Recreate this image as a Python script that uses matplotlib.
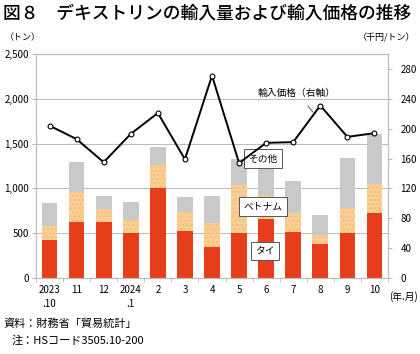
import numpy as np
import matplotlib
matplotlib.use("Agg")
import matplotlib.pyplot as plt

plt.rcParams['font.family'] = ['Noto Sans CJK JP', 'DejaVu Sans']

# --- datos ---
meses = ["2023\n.10", "11", "12", "2024\n.1", "2", "3", "4", "5", "6", "7", "8", "9", "10"]
tai = [420, 620, 620, 498, 1000, 524, 349, 498, 661, 513, 383, 501, 724]
vietnam = [163, 335, 145, 152, 259, 208, 264, 538, 260, 215, 92, 279, 327]
otros = [249, 345, 152, 200, 201, 167, 304, 294, 446, 357, 223, 564, 553]
precio = [204, 186, 155, 193, 221, 159, 271, 154, 181, 182, 231, 189, 194]

c_tai = "#E63E1A"
c_viet = "#FACF93"
c_otros = "#C9C9C9"
c_eje = "#BDBDBD"

fig = plt.figure(figsize=(4.2, 3.54), dpi=100)
ax = fig.add_axes([36/420, 1-278/354, 352/420, 224/354])
ax2 = ax.twinx()

x = np.arange(len(meses))
w = 0.58
tai = np.array(tai)
vietnam = np.array(vietnam)
otros = np.array(otros)

ax.bar(x, tai, w, color=c_tai, linewidth=0, zorder=2)
ax.bar(x, vietnam, w, bottom=tai, color=c_viet, edgecolor="#F4BE7C",
       hatch="....", linewidth=0, zorder=2)
ax.bar(x, otros, w, bottom=tai + vietnam, color=c_otros, linewidth=0, zorder=2)

ax.set_ylim(0, 2500)
ax.set_xlim(-0.5, len(meses) - 0.5)
ax.set_yticks(np.arange(0, 2501, 500))
ax.set_yticklabels([f"{v:,}" for v in range(0, 2501, 500)])
ax.yaxis.grid(True, color=c_eje, linewidth=0.8, zorder=0)
ax.set_axisbelow(True)

ax.set_xticks(x)
ax.set_xticklabels(meses, fontsize=7, linespacing=1.5)
ax.set_xticks(np.arange(-0.5, len(meses), 1), minor=True)
ax.tick_params(axis="x", which="major", length=0, pad=5)
ax.tick_params(axis="x", which="minor", length=3, color=c_eje)
ax.tick_params(axis="y", length=3, color=c_eje, labelsize=7, pad=2)

# eje derecho: precio
ax2.plot(x, precio, color="black", linewidth=1.4, marker="o", markersize=3.5,
         markerfacecolor="white", markeredgecolor="black", markeredgewidth=0.8, zorder=5)
ax2.set_ylim(0, 300)
ax2.set_yticks(np.arange(0, 281, 40))
ax2.tick_params(axis="y", length=3, color=c_eje, labelsize=7, pad=6)

for a in (ax, ax2):
    for s in a.spines.values():
        s.set_color(c_eje)
        s.set_linewidth(0.8)

# etiquetas
caja = dict(boxstyle="square,pad=0.45", facecolor="white", edgecolor="#555555", linewidth=0.7)
ax.text(7.88, 1330, "その他", fontsize=7, ha="center", va="center", bbox=caja, zorder=6)
ax.text(7.88, 795, "ベトナム", fontsize=7, ha="center", va="center", bbox=caja, zorder=6)
ax.text(7.95, 300, "タイ", fontsize=7, ha="center", va="center", bbox=caja, zorder=6)
ax2.annotate("輸入価格（右軸）", xy=(9.73, 222), xytext=(9.14, 248),
             fontsize=7, ha="center", va="center",
             arrowprops=dict(arrowstyle="-", color="#555555", linewidth=0.7,
                             shrinkA=5, shrinkB=0))

fig.text(3/420, 1-13/354, "図８　デキストリンの輸入量および輸入価格の推移",
         fontsize=12.8, fontweight="medium", va="center", ha="left")
fig.text(5/420, 1-38/354, "（トン）", fontsize=6.5, va="center", ha="left")
fig.text(415/420, 1-38/354, "（千円/トン）", fontsize=6.5, va="center", ha="right")
fig.text(418/420, 1-297/354, "(年.月)", fontsize=7, va="center", ha="right")
fig.text(3/420, 1-324/354, "資料：財務省「貿易統計」", fontsize=8, va="center", ha="left")
fig.text(12/420, 1-341/354, "注：HSコード3505.10-200", fontsize=8, va="center", ha="left")

fig.savefig("out.png", dpi=100)
